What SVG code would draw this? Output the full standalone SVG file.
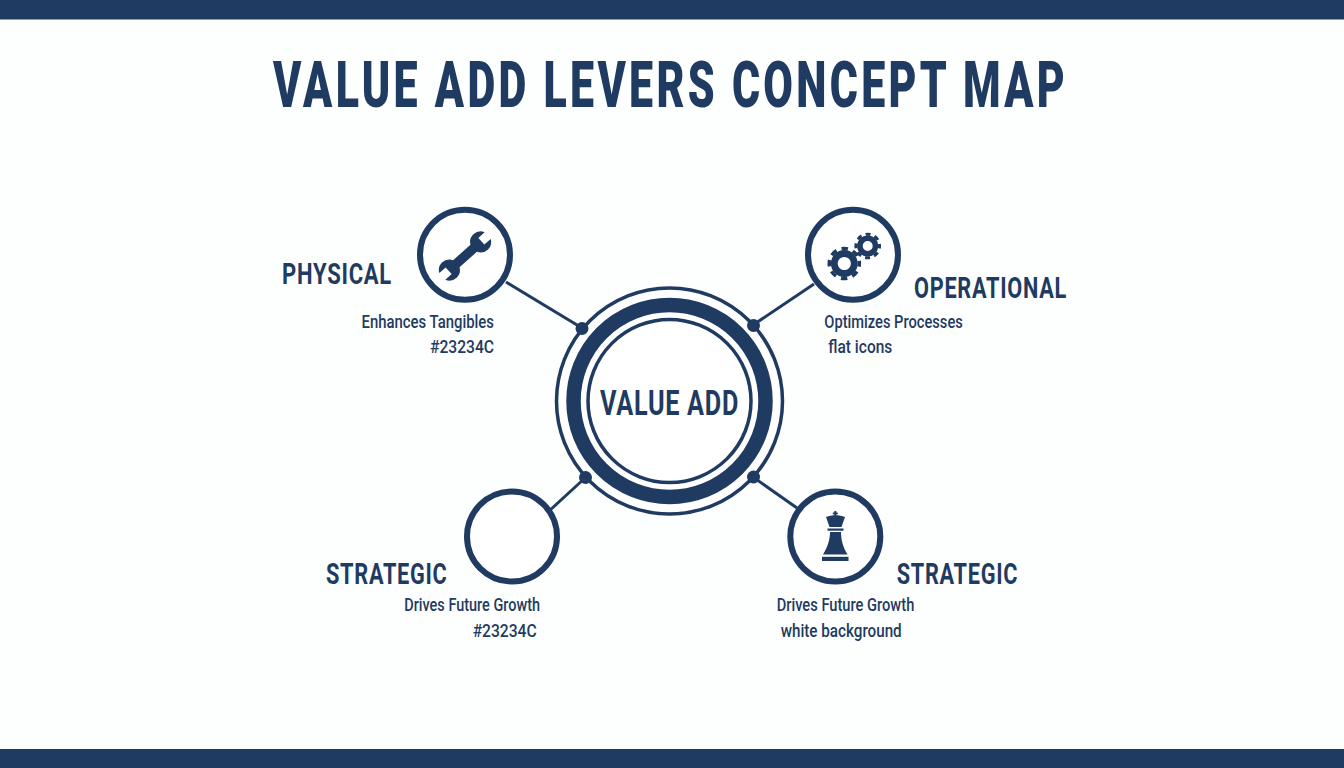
<svg xmlns="http://www.w3.org/2000/svg" width="1344" height="768" viewBox="0 0 1344 768">
<style>
text{font-family:"Roboto","Liberation Sans",sans-serif;fill:#1f3b61}
.title{font-size:65px;font-weight:900;letter-spacing:5px}
.head{font-size:30px;font-weight:700;letter-spacing:1px}
.sub{font-size:19px;font-weight:500}
.ring{fill:#fff;stroke:#1f3b61;stroke-width:6}
.line{stroke:#1f3b61;stroke-width:3;fill:none}
.dot{fill:#1f3b61}
.ico{fill:#1f3b61}
.gear{fill:none;stroke:#1f3b61}
</style>
<rect width="1344" height="768" fill="#fdfefe"/>
<rect width="1344" height="19.500" fill="#1f3b61"/>
<rect y="749" width="1344" height="19" fill="#1f3b61"/>
<text id="title" class="title" transform="translate(273 107) scale(.75 1)" x="0" y="0" textLength="1060" lengthAdjust="spacingAndGlyphs">VALUE ADD LEVERS CONCEPT MAP</text>
<g id="connectors">
<line class="line" x1="506" y1="282" x2="582" y2="328"/>
<line class="line" x1="814" y1="284" x2="753" y2="325"/>
<line class="line" x1="549" y1="511" x2="585" y2="478"/>
<line class="line" x1="797" y1="508" x2="753" y2="477"/>
</g>
<g id="center">
<circle cx="669.500" cy="401" r="113" fill="#fff" stroke="#1f3b61" stroke-width="3.500"/>
<circle cx="669.500" cy="401" r="96" fill="none" stroke="#1f3b61" stroke-width="14.500"/>
<circle cx="669.500" cy="401" r="81.500" fill="none" stroke="#1f3b61" stroke-width="3.500"/>
<circle class="dot" cx="582" cy="328.500" r="6.500"/>
<circle class="dot" cx="753.500" cy="325.500" r="6.500"/>
<circle class="dot" cx="585.500" cy="477.500" r="6.500"/>
<circle class="dot" cx="753.500" cy="477" r="6.500"/>
<text class="head" x="600" y="414.500" style="font-size:35px" textLength="139" lengthAdjust="spacingAndGlyphs">VALUE ADD</text>
</g>
<g id="physical">
<circle class="ring" cx="465" cy="254.800" r="45"/>
<path class="ico" transform="translate(465 256) rotate(-42)" d="M-11.660-4.800L11.660-4.800A10.500 10.500 0 0 1 30.490-4.500L22-4.500L22 4.500L30.490 4.500A10.500 10.500 0 0 1 11.660 4.800L-11.660 4.800A10.500 10.500 0 0 1-30.490 4.500L-22 4.500L-22-4.500L-30.490-4.500A10.500 10.500 0 0 1-11.660-4.800Z"/>
<text class="head" x="282" y="283.500" textLength="110" lengthAdjust="spacingAndGlyphs">PHYSICAL</text>
<text class="sub" x="361.500" y="327.500" textLength="132.500" lengthAdjust="spacingAndGlyphs">Enhances Tangibles</text>
<text class="sub" x="430" y="353" textLength="64" lengthAdjust="spacingAndGlyphs">#23234C</text>
</g>
<g id="operational">
<circle class="ring" cx="853" cy="254.800" r="45"/>
<circle class="gear" cx="844.300" cy="263.500" r="10" stroke-width="6.800"/>
<circle class="gear" cx="844.300" cy="263.500" r="15" stroke-width="3.600" stroke-dasharray="6.500 5.280" stroke-dashoffset="3.250"/>
<circle class="gear" cx="867.700" cy="246" r="7.800" stroke-width="5.600"/>
<circle class="gear" cx="867.700" cy="246" r="11.800" stroke-width="3" stroke-dasharray="5 4.270" stroke-dashoffset="2.500"/>
<text class="head" x="914" y="297.500" textLength="153" lengthAdjust="spacingAndGlyphs">OPERATIONAL</text>
<text class="sub" x="824.300" y="327.500" textLength="138.500" lengthAdjust="spacingAndGlyphs">Optimizes Processes</text>
<text class="sub" x="828.300" y="353" textLength="64" lengthAdjust="spacingAndGlyphs">flat icons</text>
</g>
<g id="strategic-left">
<circle class="ring" cx="512" cy="536.500" r="45"/>
<text class="head" x="326" y="584" textLength="121.500" lengthAdjust="spacingAndGlyphs">STRATEGIC</text>
<text class="sub" x="404.300" y="611" textLength="135.700" lengthAdjust="spacingAndGlyphs">Drives Future Growth</text>
<text class="sub" x="472.700" y="636.500" textLength="64" lengthAdjust="spacingAndGlyphs">#23234C</text>
</g>
<g id="strategic-right">
<circle class="ring" cx="835.300" cy="536.500" r="45"/>
<g class="ico">
<rect x="834.300" y="511" width="2" height="6"/>
<rect x="832.800" y="512.500" width="5" height="1.800"/>
<path d="M826 517C832 514.500 839 514.500 845 517L841.500 527L829.500 527Z"/>
<rect x="827.500" y="528.500" width="16" height="2.200"/>
<path d="M830 532L841 532C841 540 843 547 847.500 554.500L823 554.500C827.500 547 830 540 830 532Z"/>
<rect x="822" y="556.800" width="26.500" height="4.200"/>
</g>
<text class="head" x="896.700" y="584" textLength="121.500" lengthAdjust="spacingAndGlyphs">STRATEGIC</text>
<text class="sub" x="776.700" y="611" textLength="137.600" lengthAdjust="spacingAndGlyphs">Drives Future Growth</text>
<text class="sub" x="780.700" y="636.500" textLength="121" lengthAdjust="spacingAndGlyphs">white background</text>
</g>
</svg>
